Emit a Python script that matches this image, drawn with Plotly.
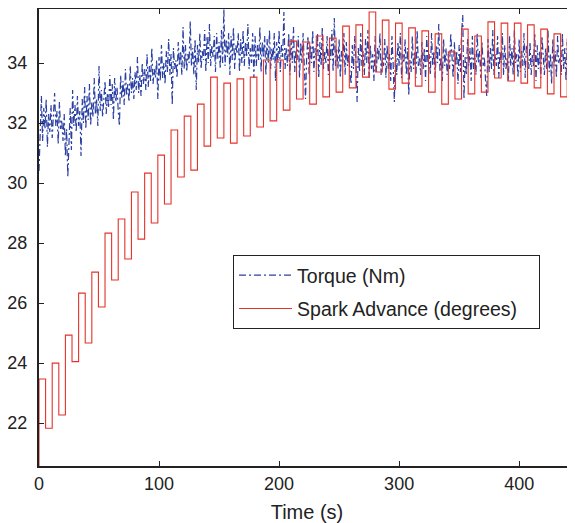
import plotly.graph_objects as go

# ---------------- data ----------------
# Torque (Nm), sampled every 1 s from t = 0 s
torque_dt = 1.0
torque_nm = [
    30.4, 31.6, 32.9, 31.4, 32.5, 31.8, 32.8, 31.2, 32.3, 31.7,
    32.6, 31.5, 32.2, 33.0, 31.9, 32.4, 31.3, 32.7, 31.8, 32.1,
    31.4, 32.3, 30.9, 31.8, 30.2, 31.6, 32.5, 31.1, 33.1, 31.9,
    32.6, 31.7, 32.9, 31.9, 32.4, 30.9, 32.8, 32.0, 33.2, 31.8,
    32.9, 32.1, 33.3, 31.9, 32.7, 32.2, 33.5, 32.3, 32.8, 31.9,
    33.9, 32.4, 33.1, 32.2, 32.9, 33.4, 32.3, 33.0, 32.5, 33.6,
    32.6, 33.3, 32.1, 33.5, 32.7, 33.2, 32.4, 31.9, 33.6, 32.8,
    33.4, 32.6, 33.8, 32.9, 33.3, 32.7, 33.9, 33.0, 33.5, 32.8,
    33.7, 33.1, 34.2, 33.0, 33.6, 32.9, 34.0, 33.3, 33.8, 33.1,
    34.3, 33.2, 33.9, 33.4, 34.5, 33.3, 33.8, 33.5, 34.1, 32.8,
    34.2, 33.4, 34.6, 33.5, 34.0, 33.3, 34.4, 33.7, 34.8, 33.6,
    34.3, 32.6, 34.5, 33.8, 34.1, 33.5, 34.7, 33.9, 34.4, 33.6,
    35.2, 33.8, 34.6, 33.7, 34.3, 34.0, 35.4, 33.9, 34.5, 33.6,
    34.8, 33.1, 34.6, 34.0, 35.0, 33.8, 34.4, 34.1, 35.1, 33.7,
    34.9, 34.0, 35.3, 33.9, 34.6, 34.2, 34.9, 33.7, 35.0, 34.1,
    34.7, 33.8, 35.1, 34.0, 35.8, 33.9, 34.8, 34.2, 35.0, 33.6,
    34.9, 34.1, 35.2, 33.8, 34.6, 34.3, 35.0, 33.7, 34.8, 34.0,
    35.1, 33.9, 34.7, 34.2, 35.3, 33.8, 34.5, 34.0, 35.0, 33.5,
    34.9, 33.9, 34.6, 34.1, 35.2, 33.7, 34.7, 34.2, 34.9, 33.6,
    34.8, 34.0, 35.1, 33.8, 34.5, 34.1, 35.0, 33.4, 34.7, 34.0,
    35.1, 33.7, 34.6, 34.2, 35.7, 33.8, 34.5, 33.9, 35.0, 33.6,
    34.8, 34.0, 35.2, 33.7, 34.4, 34.1, 34.9, 33.5, 34.7, 34.0,
    35.0, 33.8, 32.8, 34.2, 34.9, 33.6, 34.6, 34.0, 35.1, 33.7,
    34.5, 34.1, 35.0, 33.5, 34.7, 33.9, 35.2, 33.8, 34.4, 34.0,
    34.9, 33.6, 34.6, 34.1, 35.1, 33.7, 35.5, 33.9, 34.5, 33.8,
    34.8, 33.5, 34.4, 34.0, 35.0, 33.6, 34.7, 33.9, 34.3, 33.7,
    33.3, 34.6, 33.8, 34.9, 34.1, 32.7, 34.5, 33.7, 35.0, 33.9,
    34.4, 33.6, 34.8, 34.0, 35.1, 33.5, 34.6, 33.8, 34.3, 33.4,
    34.9, 33.7, 34.5, 34.1, 35.0, 33.6, 34.2, 33.9, 34.8, 33.5,
    34.6, 33.8, 34.3, 33.4, 34.9, 34.0, 32.7, 34.4, 33.6, 34.7,
    33.9, 35.0, 33.5, 34.3, 34.0, 34.8, 33.6, 34.5, 32.9, 34.1,
    33.7, 34.9, 33.8, 34.4, 33.5, 35.1, 33.9, 34.2, 33.6, 34.7,
    33.8, 34.5, 33.4, 34.9, 34.0, 34.3, 33.6, 35.0, 33.9, 34.4,
    33.5, 34.6, 34.0, 35.3, 33.7, 34.2, 33.4, 34.8, 33.9, 34.5,
    33.6, 34.3, 33.8, 35.0, 34.1, 33.5, 34.7, 33.9, 34.4, 33.3,
    34.6, 33.7, 35.0, 35.6, 32.8, 34.2, 33.6, 34.8, 33.9, 34.5,
    33.4, 34.9, 33.8, 34.3, 33.6, 35.0, 34.0, 34.4, 33.5, 34.7,
    33.9, 34.2, 33.4, 32.9, 34.8, 33.7, 34.5, 33.8, 35.1, 33.6,
    34.3, 33.9, 34.9, 33.5, 34.4, 34.0, 35.0, 33.6, 34.6, 33.8,
    34.2, 33.4, 34.9, 33.9, 34.5, 33.6, 35.1, 34.0, 34.3, 33.5,
    34.8, 33.7, 34.4, 33.9, 35.0, 33.5, 34.6, 34.1, 33.8, 34.7,
    33.6, 34.3, 33.9, 35.0, 33.4, 34.6, 33.8, 34.4, 33.5, 34.9,
    34.0, 33.6, 34.5, 33.8, 35.1, 33.7, 34.3, 33.3, 34.8, 33.9,
    34.4, 33.5, 34.9, 34.0, 34.2, 33.6, 35.0, 33.8, 34.5, 33.4,
    34.7, 33.9, 34.3, 33.5, 34.8, 34.0, 33.6, 34.4,
]

# Spark advance (degrees): piecewise-constant, value held for each 5.5 s step
spark_step_s = 5.5
spark_start = 20.0
spark_deg = [
    23.47, 21.83, 24.00, 22.27, 24.93, 24.05, 26.33, 24.67, 27.03, 25.87,
    28.33, 26.77, 28.80, 27.47, 29.70, 28.13, 30.33, 28.67, 30.93, 29.30,
    31.77, 30.20, 32.23, 30.43, 32.63, 31.23, 33.53, 31.50, 33.33, 31.33,
    33.47, 31.57, 33.53, 31.87, 34.10, 32.07, 34.10, 32.43, 34.73, 32.80,
    34.70, 32.63, 34.90, 32.87, 34.83, 33.03, 35.23, 33.17, 35.27, 33.53,
    35.70, 33.70, 35.43, 33.13, 35.33, 33.33, 35.17, 33.23, 35.07, 33.03,
    34.97, 32.63, 34.37, 32.80, 35.13, 32.97, 34.90, 33.03, 35.37, 33.50,
    35.33, 33.40, 35.33, 33.33, 35.27, 33.17, 35.13, 32.97, 34.97, 32.87,
    34.80, 33.03,
]

x_ticks = [0, 100, 200, 300, 400]
y_ticks = [22, 24, 26, 28, 30, 32, 34]
x_range = [0, 446.5]
y_range = [20.57, 35.8]

# ---------------- build ----------------
t_torque = [i * torque_dt for i in range(len(torque_nm))]
t_spark = [0.0] + [k * spark_step_s for k in range(len(spark_deg))] + [len(spark_deg) * spark_step_s]
v_spark = [spark_start] + spark_deg + [spark_deg[-1]]

FONT = "Liberation Sans, Arial, Helvetica, sans-serif"
INK = "#222222"

fig = go.Figure()
fig.add_trace(go.Scatter(
    x=t_torque, y=torque_nm, mode="lines", name="Torque (Nm)\u00a0\u00a0\u00a0",
    legendgroup="a",
    line=dict(color="#2A3FA3", width=1.2, dash="7px,3px,2px,3px"),
))
fig.add_trace(go.Scatter(
    x=t_spark, y=v_spark, mode="lines", name="Spark Advance (degrees)\u00a0\u00a0\u00a0",
    legendgroup="b",
    line=dict(color="#E5322A", width=1.1, shape="hv"),
))

# the page adds an 8 px body margin, so the figure is offset accordingly
fig.update_layout(
    width=567, height=515,
    margin=dict(l=31, r=0, t=1, b=57, autoexpand=False),
    paper_bgcolor="white", plot_bgcolor="white",
    font=dict(family=FONT, size=18, color=INK),
    showlegend=True,
    legend=dict(
        x=0.362, y=0.4617, xanchor="left", yanchor="top",
        bgcolor="white", bordercolor=INK, borderwidth=1,
        font=dict(family=FONT, size=19.5, color=INK),
        traceorder="grouped", tracegroupgap=5,
        itemwidth=53,
    ),
)
fig.update_xaxes(
    range=x_range, tickvals=x_ticks, ticks="inside", ticklen=5,
    tickcolor=INK, showline=True, linewidth=2, linecolor=INK, mirror="ticks",
    showgrid=False, zeroline=False, automargin=False,
    tickfont=dict(family=FONT, size=18, color=INK),
    title=dict(text="Time (s)", font=dict(family=FONT, size=20, color=INK), standoff=14),
)
fig.update_yaxes(
    range=y_range, tickvals=y_ticks, ticks="inside", ticklen=5,
    tickcolor=INK, showline=True, linewidth=2, linecolor=INK,
    showgrid=False, zeroline=False, automargin=False,
    tickfont=dict(family=FONT, size=18, color=INK),
    ticklabelstandoff=6,
)

fig.write_html("out.html")
